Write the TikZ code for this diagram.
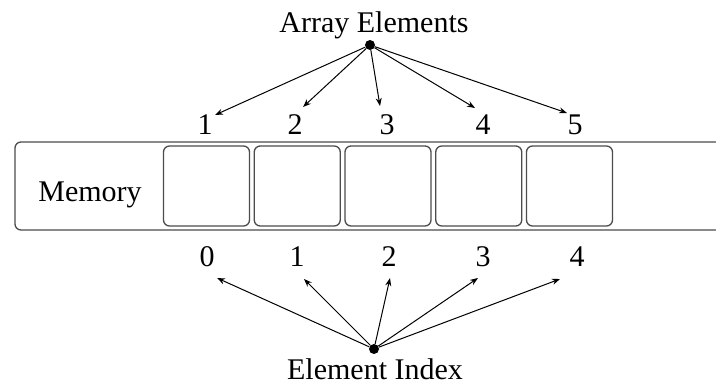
\documentclass[tikz,border=0pt]{standalone}
\usepackage{fontspec}
\setmainfont{Liberation Serif}
\usetikzlibrary{arrows.meta}

\begin{document}
\begin{tikzpicture}[x=1pt, y=-1pt,
		cell/.style={draw=black!70, line width=1.3pt, rounded corners=6pt, minimum width=86pt, minimum height=80pt},
		lbl/.style={anchor=base, inner sep=0pt, font=\fontsize{30}{35}\selectfont},
		pin/.style={circle, fill=black, inner sep=0pt, minimum size=10pt},
		ptr/.style={-{Stealth[length=8pt, width=6pt]}, line width=1pt}]
		\useasboundingbox (0, 0) rectangle (716, 385);

		% memory strip, open on the right
		\draw[black!70, line width=1.3pt, rounded corners=6pt]	(716, 142) -- (15, 142) -- (15, 230) -- (716, 230);
		\node[lbl] (mem) at (90, 202) {Memory};

		\node[cell] (c1) at (206.5, 186) {};
		\node[cell] (c2) at (297.25, 186) {};
		\node[cell] (c3) at (388, 186) {};
		\node[cell] (c4) at (478.75, 186) {};
		\node[cell] (c5) at (569.5, 186) {};

		% values above, indices below
		\node[lbl] (a1) at (205, 135) {1};
		\node[lbl] (a2) at (295, 135) {2};
		\node[lbl] (a3) at (387, 135) {3};
		\node[lbl] (a4) at (483, 135) {4};
		\node[lbl] (a5) at (575, 135) {5};

		\node[lbl] (i0) at (207, 267) {0};
		\node[lbl] (i1) at (297, 267) {1};
		\node[lbl] (i2) at (389, 267) {2};
		\node[lbl] (i3) at (483, 267) {3};
		\node[lbl] (i4) at (577, 267) {4};

		\node[lbl] (elemtxt) at (374, 33) {Array Elements};
		\node[pin] (elem) at (370, 45) {};
		\node[pin] (idx) at (374, 349) {};
		\node[lbl] (idxtxt) at (375, 379) {Element Index};

		\coordinate (ta1) at (215, 115);
		\coordinate (ta2) at (303, 107);
		\coordinate (ta3) at (380, 106);
		\coordinate (ta4) at (475, 108);
		\coordinate (ta5) at (567, 113);

		\coordinate (ti0) at (217, 278);
		\coordinate (ti1) at (304, 279);
		\coordinate (ti2) at (390, 278);
		\coordinate (ti3) at (478, 278);
		\coordinate (ti4) at (560, 279);

		\draw[ptr] (elem) -- (ta1);
		\draw[ptr] (elem) -- (ta2);
		\draw[ptr] (elem) -- (ta3);
		\draw[ptr] (elem) -- (ta4);
		\draw[ptr] (elem) -- (ta5);

		\draw[ptr] (idx) -- (ti0);
		\draw[ptr] (idx) -- (ti1);
		\draw[ptr] (idx) -- (ti2);
		\draw[ptr] (idx) -- (ti3);
		\draw[ptr] (idx) -- (ti4);
	\end{tikzpicture}
\end{document}
